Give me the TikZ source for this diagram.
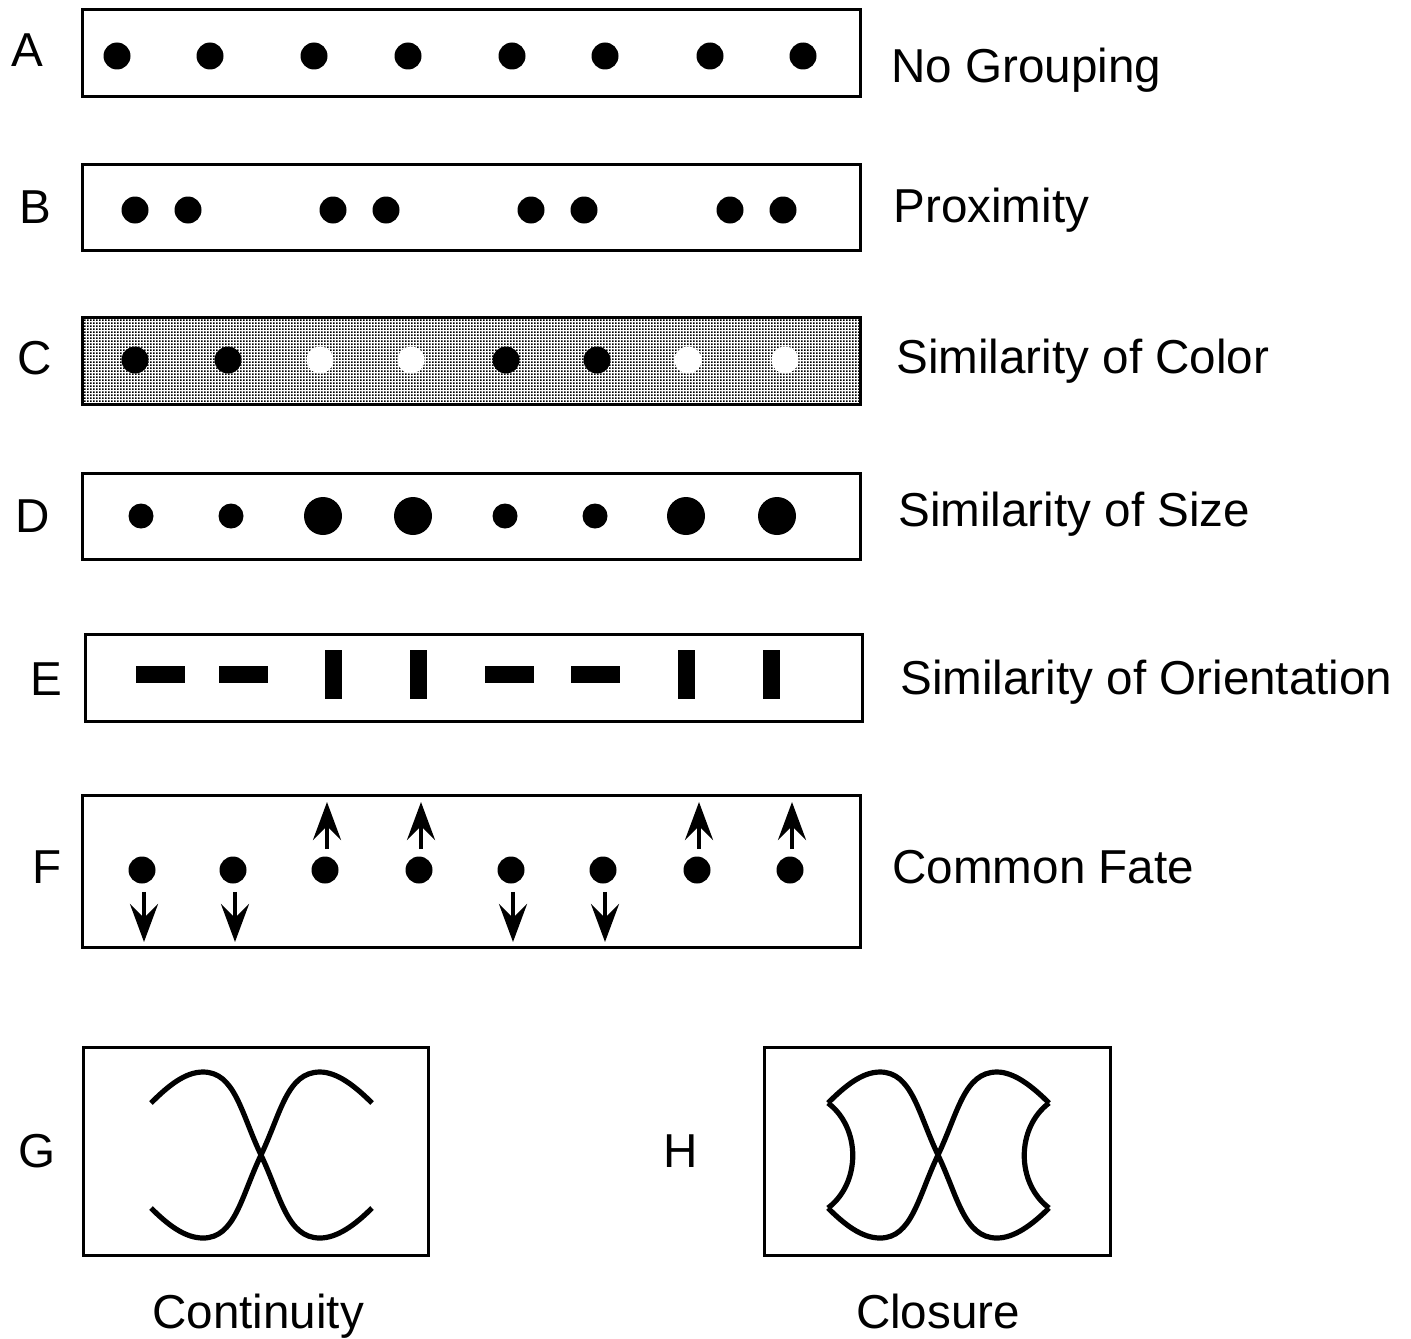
\documentclass[tikz,border=0pt]{standalone}
\usepackage{fontspec}
\setmainfont{Liberation Sans}
\usetikzlibrary{arrows.meta,patterns}
\pgfdeclarepatternformonly{finedots}{\pgfpointorigin}{\pgfpoint{1.5pt}{1.5pt}}{\pgfpoint{1.5pt}{1.5pt}}{\pgfpathrectangle{\pgfpointorigin}{\pgfpoint{1.05pt}{1.05pt}}\pgfusepath{fill}}
\begin{document}
\begin{tikzpicture}[x=0.5pt,y=-0.5pt,
  panel/.style={draw=black,line width=1.5pt},
  dot/.style={circle,fill=black,inner sep=0pt,minimum size=13.5pt},
  wdot/.style={circle,fill=white,inner sep=0pt,minimum size=13.5pt},
  sdot/.style={circle,fill=black,inner sep=0pt,minimum size=12.5pt},
  bdot/.style={circle,fill=black,inner sep=0pt,minimum size=19pt},
  hbar/.style={rectangle,fill=black,inner sep=0pt,minimum width=24.5pt,minimum height=8.5pt},
  vbar/.style={rectangle,fill=black,inner sep=0pt,minimum width=8.5pt,minimum height=24.5pt},
  lab/.style={font=\fontsize{23.8pt}{28pt}\selectfont,inner sep=0pt,anchor=base west},
  letter/.style={font=\fontsize{23.8pt}{28pt}\selectfont,inner sep=0pt,anchor=base},
  arrow/.style={line width=2.3pt,-{Stealth[length=19pt,width=14pt,inset=7pt]}},
  curve/.style={line width=2.6pt,line join=round}
]
\useasboundingbox (0,0) rectangle (1411,1338);

% ---------- A
\draw[panel] (82,10) rectangle (860,97);
\foreach \x [count=\i] in {117,210,314,408,512,605,710,803}
  \node[dot] (a\i) at (\x,56) {};
\node[letter] (lA) at (27,67) {A};
\node[lab] (tA) at (891,83) {No Grouping};

% ---------- B
\draw[panel] (82,164) rectangle (860,250);
\foreach \x [count=\i] in {135,188,333,386,531,584,730,783}
  \node[dot] (b\i) at (\x,210) {};
\node[letter] (lB) at (35,223) {B};
\node[lab] (tB) at (893,222) {Proximity};

% ---------- C
\fill[pattern=finedots,pattern color=black] (82,317) rectangle (860,404);
\draw[panel] (82,317) rectangle (860,404);
\node[dot] (c1) at (135,360) {};
\node[dot] (c2) at (228,360) {};
\node[wdot] (c3) at (320,360) {};
\node[wdot] (c4) at (411,360) {};
\node[dot] (c5) at (506,360) {};
\node[dot] (c6) at (597,360) {};
\node[wdot] (c7) at (688,360) {};
\node[wdot] (c8) at (785,360) {};
\node[letter] (lC) at (35,374) {C};
\node[lab] (tC) at (896,373) {Similarity of Color};

% ---------- D
\draw[panel] (82,473) rectangle (860,559);
\node[sdot] (d1) at (141,516) {};
\node[sdot] (d2) at (231,516) {};
\node[bdot] (d3) at (323,516) {};
\node[bdot] (d4) at (413,516) {};
\node[sdot] (d5) at (505,516) {};
\node[sdot] (d6) at (595,516) {};
\node[bdot] (d7) at (686,516) {};
\node[bdot] (d8) at (777,516) {};
\node[letter] (lD) at (33,532) {D};
\node[lab] (tD) at (898,526) {Similarity of Size};

% ---------- E
\draw[panel] (85,634) rectangle (862,721);
\node[hbar] (e1) at (160,674) {};
\node[hbar] (e2) at (243,674) {};
\node[vbar] (e3) at (333,674) {};
\node[vbar] (e4) at (418,674) {};
\node[hbar] (e5) at (509,674) {};
\node[hbar] (e6) at (595,674) {};
\node[vbar] (e7) at (686,674) {};
\node[vbar] (e8) at (771,674) {};
\node[letter] (lE) at (46,695) {E};
\node[lab] (tE) at (900,694) {Similarity of Orientation};

% ---------- F
\draw[panel] (82,795) rectangle (860,947);
\foreach \x [count=\i] in {142,233,325,419,511,603,697,790}
  \node[dot] (f\i) at (\x,870) {};
\foreach \i/\x in {3/327,4/421,7/699,8/792}
  \coordinate (fu\i) at (\x,802);
\foreach \i/\x in {1/144,2/235,5/513,6/605}
  \coordinate (fd\i) at (\x,942);
\foreach \i in {3,4,7,8}
  \draw[arrow] ([xshift=1pt,yshift=3.5pt]f\i.north) -- (fu\i);
\foreach \i in {1,2,5,6}
  \draw[arrow] ([xshift=1pt,yshift=-4pt]f\i.south) -- (fd\i);
\node[letter] (lF) at (47,883) {F};
\node[lab] (tF) at (892,883) {Common Fate};

% ---------- G
\draw[panel] (83,1047) rectangle (428,1255);
\draw[curve] (151,1103) .. controls (168,1086) and (185,1072) .. (203,1072)
  .. controls (235,1072) and (241,1113) .. (261,1155)
  .. controls (281,1197) and (287,1238) .. (320,1238)
  .. controls (337,1238) and (355,1225) .. (372,1208);
\draw[curve] (151,1208) .. controls (168,1225) and (185,1238) .. (203,1238)
  .. controls (235,1238) and (241,1197) .. (261,1155)
  .. controls (281,1113) and (287,1072) .. (320,1072)
  .. controls (337,1072) and (355,1086) .. (372,1103);
\node[letter] (lG) at (37,1167) {G};
\node[letter] (tG) at (258,1328) {Continuity};

% ---------- H
\draw[panel] (764,1047) rectangle (1110,1255);
\begin{scope}[xshift=338.5pt]
\draw[curve] (151,1103) .. controls (168,1086) and (185,1072) .. (203,1072)
  .. controls (235,1072) and (241,1113) .. (261,1155)
  .. controls (281,1197) and (287,1238) .. (320,1238)
  .. controls (337,1238) and (355,1225) .. (372,1208);
\draw[curve] (151,1208) .. controls (168,1225) and (185,1238) .. (203,1238)
  .. controls (235,1238) and (241,1197) .. (261,1155)
  .. controls (281,1113) and (287,1072) .. (320,1072)
  .. controls (337,1072) and (355,1086) .. (372,1103);
\draw[curve] (151,1103) .. controls (184,1128) and (184,1183) .. (151,1208);
\draw[curve] (372,1103) .. controls (339,1128) and (339,1183) .. (372,1208);
\end{scope}
\node[letter] (lH) at (681,1167) {H};
\node[letter] (tH) at (938,1328) {Closure};
\end{tikzpicture}
\end{document}
